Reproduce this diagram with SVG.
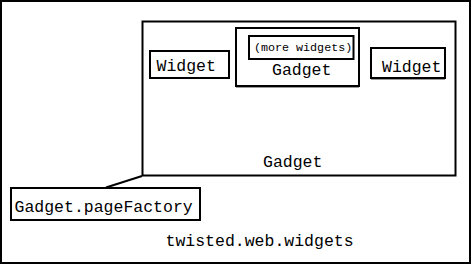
<svg xmlns="http://www.w3.org/2000/svg" width="471" height="264" viewBox="0 0 471 264">
<style>
.box{fill:#fff;stroke:#000;stroke-width:2}
.t{font-family:"Liberation Mono","Courier New",monospace;font-size:16.5px;fill:#000}
.s{font-size:11.7px}
.sh{stroke:#999;stroke-width:1}
</style>
<rect x="0" y="0" width="471" height="264" fill="#fff"/>
<rect x="1" y="1" width="469" height="262" fill="none" stroke="#000" stroke-width="2"/>
<g id="connectors">
<line x1="142" y1="176" x2="106" y2="187.5" stroke="#000" stroke-width="2"/>
</g>
<g id="gadget-main">
<rect class="box" x="142.5" y="21.5" width="313" height="154"/>
<text class="t" x="263" y="166.5">Gadget</text>
</g>
<g id="widget-left">
<rect class="box" x="150" y="51" width="79" height="27"/>
<text class="t" x="156.5" y="70.5">Widget</text>
</g>
<g id="gadget-inner">
<line class="sh" x1="236" y1="87.5" x2="359" y2="87.5"/>
<rect class="box" x="236" y="28" width="123" height="58"/>
<text class="t" x="272" y="75">Gadget</text>
</g>
<g id="more-widgets">
<rect class="box" x="249" y="36" width="104.5" height="23"/>
<text class="t s" x="254" y="50.5">(more widgets)</text>
</g>
<g id="widget-right">
<line class="sh" x1="371" y1="79.5" x2="445" y2="79.5"/>
<rect class="box" x="371" y="48" width="74" height="30"/>
<text class="t" x="382" y="72">Widget</text>
</g>
<g id="page-factory">
<rect class="box" x="11" y="188" width="189" height="32"/>
<text class="t" x="14.5" y="212">Gadget.pageFactory</text>
</g>
<g id="module-label">
<text class="t" x="165.5" y="245.5">twisted.web.widgets</text>
</g>
</svg>
